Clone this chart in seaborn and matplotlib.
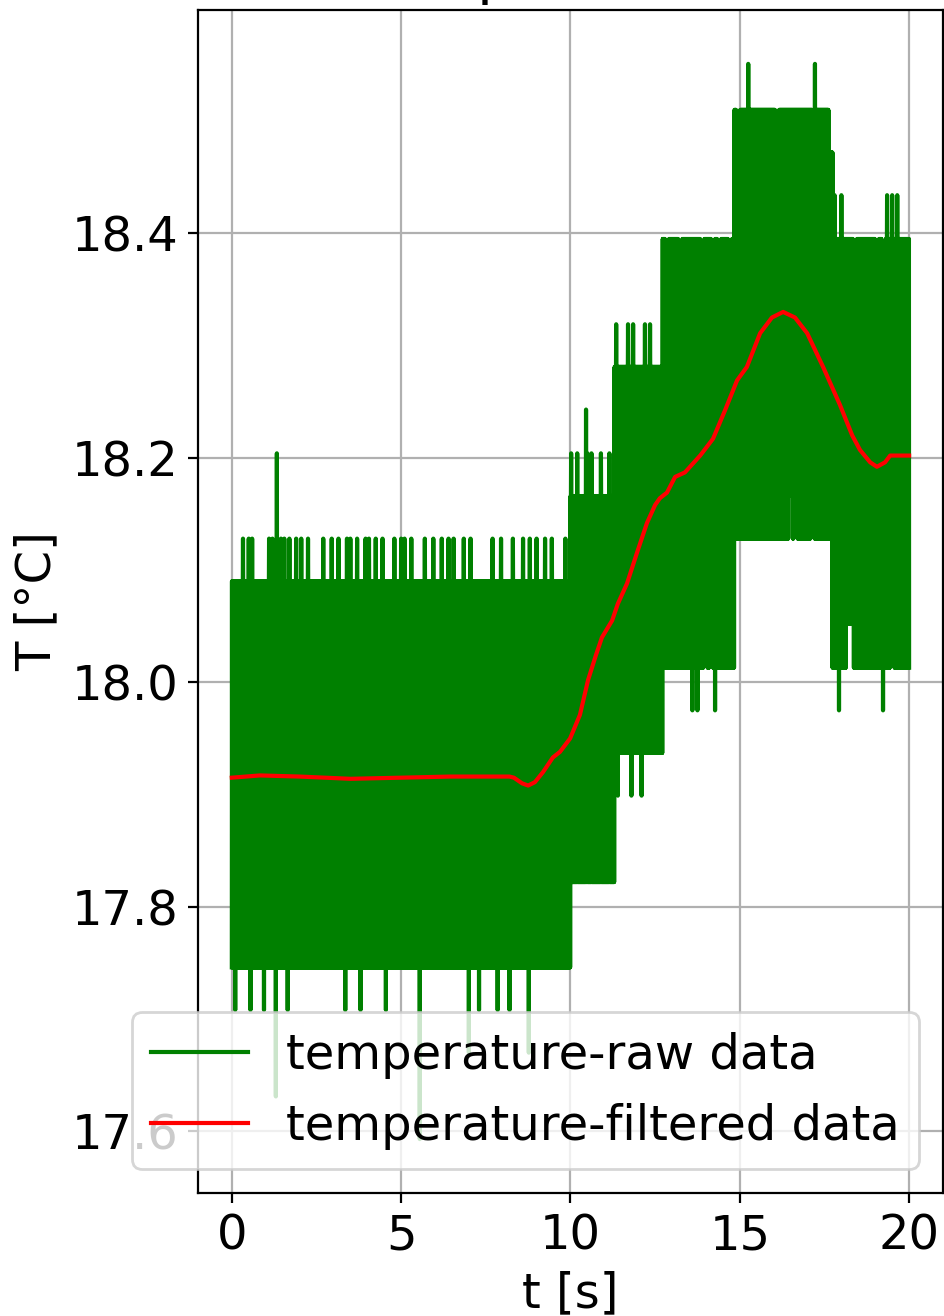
import numpy as np
import pandas as pd
import seaborn as sns
import matplotlib.pyplot as plt

# raw signal: dense band per time segment (lower / upper level, degC)
seg_t0 = [0.0, 10.0, 11.3, 12.72, 14.84, 17.74]
seg_t1 = [10.0, 11.3, 12.72, 14.84, 17.74, 20.0]
seg_low = [17.746, 17.822, 17.937, 18.013, 18.128, 18.013]
seg_high = [18.090, 18.166, 18.281, 18.395, 18.510, 18.395]

# single samples sticking out of the band
spike_t = [0.33, 0.5, 0.6, 0.95, 1.1, 1.2, 1.45, 1.55, 1.7, 1.9, 2.05, 2.25, 2.7,
           2.95, 3.15, 3.4, 3.5, 3.7, 3.95, 4.05, 4.25, 4.45, 4.8, 5.0, 5.1, 5.3,
           5.7, 5.95, 6.2, 6.4, 6.55, 6.85, 7.05, 7.3, 7.7, 7.95, 8.3, 8.6, 8.8,
           9.0, 9.25, 9.45, 9.85, 1.33,
           10.02, 10.2, 10.5, 10.62, 10.9, 11.15, 10.46,
           11.35, 11.7, 11.85, 12.2, 12.35,
           15.25, 17.22,
           17.8, 18.0, 19.35, 19.5, 19.65,
           0.1, 0.55, 0.95, 1.65, 3.35, 3.8, 4.55, 7.3, 7.85, 8.2,
           1.3, 5.55, 7.0, 8.77,
           11.4, 11.8, 12.1,
           13.6, 13.75, 14.27,
           17.93, 19.23]
spike_v = [18.128] * 43 + [18.204,
           18.204, 18.204, 18.204, 18.204, 18.204, 18.204, 18.243,
           18.319, 18.319, 18.319, 18.319, 18.319,
           18.551, 18.551,
           18.434, 18.434, 18.434, 18.434, 18.434] + \
          [17.708] * 10 + [17.631, 17.593, 17.670, 17.670,
           17.899, 17.899, 17.899,
           17.975, 17.975, 17.975,
           17.975, 17.975]

# short gaps where the upper / lower edge of the band drops back one step
top_gap_t = [12.85, 13.24, 13.89, 14.21, 14.39, 14.71, 14.95, 16.1, 17.2, 17.68,
             18.4, 19.05, 19.25]
top_gap_v = [18.357] * 6 + [18.472] * 4 + [18.357] * 3
bot_gap_t = [13.98, 14.15, 16.5, 16.65, 17.15, 18.2, 18.3, 19.5]
bot_gap_v = [18.052, 18.052, 18.166, 18.166, 18.166, 18.052, 18.052, 18.052]

# filtered signal
filt_t = [0.0, 0.83, 2.0, 3.5, 5.0, 6.45, 8.2, 8.33, 8.57, 8.75, 8.95, 9.19, 9.48,
          9.69, 9.99, 10.28, 10.52, 10.75, 10.93, 11.23, 11.4, 11.67, 11.96, 12.26,
          12.5, 12.64, 12.85, 13.09, 13.38, 13.83, 14.21, 14.56, 14.92, 15.21, 15.6,
          15.95, 16.28, 16.63, 16.99, 17.46, 17.96, 18.32, 18.55, 18.85, 19.05,
          19.29, 19.44, 20.0]
filt_v = [17.915, 17.917, 17.916, 17.914, 17.915, 17.916, 17.916, 17.915, 17.910,
          17.908, 17.911, 17.920, 17.933, 17.938, 17.950, 17.971, 18.002, 18.024,
          18.040, 18.055, 18.070, 18.088, 18.115, 18.142, 18.158, 18.164, 18.169,
          18.183, 18.187, 18.202, 18.217, 18.242, 18.269, 18.281, 18.311, 18.325,
          18.330, 18.325, 18.311, 18.281, 18.247, 18.220, 18.207, 18.196, 18.192,
          18.196, 18.202, 18.202]

y_ticks = [17.6, 17.8, 18.0, 18.2, 18.4]

# build the raw trace: band sampled every 5 ms, alternating low/high
t = np.round(np.arange(0, 20.0001, 0.005), 4)
raw = np.zeros_like(t)
for a, b, lo, hi in zip(seg_t0, seg_t1, seg_low, seg_high):
    m = (t >= a) & ((t < b) | (b == seg_t1[-1]))
    idx = np.where(m)[0]
    raw[idx] = np.where(idx % 2 == 0, lo, hi)
for tc, v in zip(top_gap_t, top_gap_v):
    m = (np.abs(t - tc) <= 0.06) & (raw > v)
    raw[m] = v
for tc, v in zip(bot_gap_t, bot_gap_v):
    m = (np.abs(t - tc) <= 0.06) & (raw < v)
    raw[m] = v
for ts, v in zip(spike_t, spike_v):
    raw[np.argmin(np.abs(t - ts))] = v

df_raw = pd.DataFrame({'t': t, 'T': raw})
df_filt = pd.DataFrame({'t': filt_t, 'T': filt_v})

plt.rcParams['font.size'] = 17.3
fig = plt.figure(figsize=(4.72, 6.58), dpi=200)
ax = fig.add_axes([0.2097, 0.0935, 0.7892, 0.8989])

sns.lineplot(data=df_raw, x='t', y='T', ax=ax, color='green', linewidth=1.5,
             estimator=None, label='temperature-raw data')
sns.lineplot(data=df_filt, x='t', y='T', ax=ax, color='red', linewidth=1.5,
             estimator=None, label='temperature-filtered data')

ax.set_yticks(y_ticks)
ax.set_ylim(17.545, 18.599)
ax.grid(True)
ax.set_xlabel('t [s]')
ax.set_ylabel('T [°C]')
ax.set_title('Temperature 1', fontsize=17.3 * 1.2)
ax.legend(loc='lower right')

fig.savefig('out.png', dpi=200)
